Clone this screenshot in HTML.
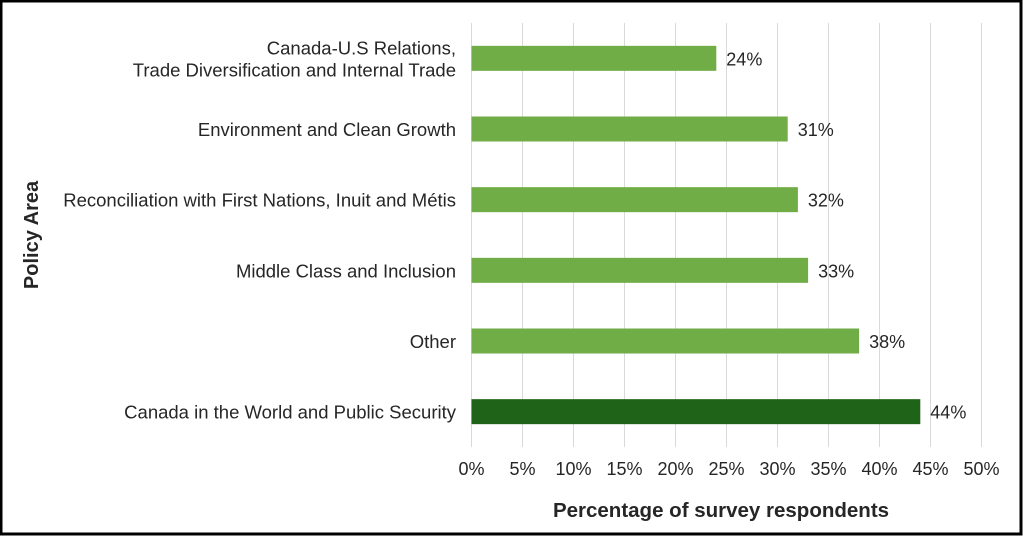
<!DOCTYPE html>
<html><head><meta charset="utf-8"><style>
html,body{margin:0;padding:0;background:#fff}
svg{display:block}
text{font-family:"Liberation Sans",Arial,sans-serif;fill:#262626}
</style></head><body>
<svg id="chart" width="1023" height="536">
<rect x="1" y="1" width="1020" height="533" fill="#fff" stroke="#000" stroke-width="3"/>
<g id="grid"></g><g id="bars"></g><g id="labels"></g>
<text x="721" y="517" text-anchor="middle" font-size="20.5" font-weight="bold" fill="#000">Percentage of survey respondents</text>
<text transform="translate(38,235) rotate(-90)" text-anchor="middle" font-size="20" font-weight="bold" fill="#000">Policy Area</text>
</svg>
<script>
const categories=[["Canada-U.S Relations,","Trade Diversification and Internal Trade"],["Environment and Clean Growth"],["Reconciliation with First Nations, Inuit and Métis"],["Middle Class and Inclusion"],["Other"],["Canada in the World and Public Security"]];
const values=[24,31,32,33,38,44];
const highlight=[false,false,false,false,false,true];
const ticks=[0,5,10,15,20,25,30,35,40,45,50];
const NS="http://www.w3.org/2000/svg";
const x0=471.5,x1=981.5,gTop=23,gBot=447;
const xs=v=>x0+(x1-x0)*v/50;
const band=(gBot-gTop)/categories.length;
const yc=i=>gTop+band*(i+0.5);
function mk(tag,attrs,parent){const e=document.createElementNS(NS,tag);for(const k in attrs)e.setAttribute(k,attrs[k]);document.getElementById(parent).appendChild(e);return e;}
ticks.forEach(t=>{
 const l=mk('line',{x1:xs(t),x2:xs(t),y1:gTop,y2:gBot,stroke:'#d9d9d9','stroke-width':1},'grid');
 
 
 const tx=mk('text',{x:xs(t),y:475,'text-anchor':'middle','font-size':18},'grid');
 tx.textContent=t+'%';
 
 
});
values.forEach((v,i)=>{
 const h=25;
 const r=mk('rect',{x:xs(0),y:yc(i)-h/2,width:xs(v)-xs(0),height:h,fill:highlight[i]?'#1e6317':'#70ad47'},'bars');
 
 
 const vl=mk('text',{x:xs(v)+10,y:yc(i)+7,'font-size':18},'labels');
 vl.textContent=v+'%';
 
 
 const lines=categories[i];
 lines.forEach((s,j)=>{
  const ct=mk('text',{x:456,y:yc(i)+7+(j-(lines.length-1)/2)*22,'text-anchor':'end','font-size':18.5},'labels');
  ct.textContent=s;
  
  
 });
});
</script>
</body></html>
